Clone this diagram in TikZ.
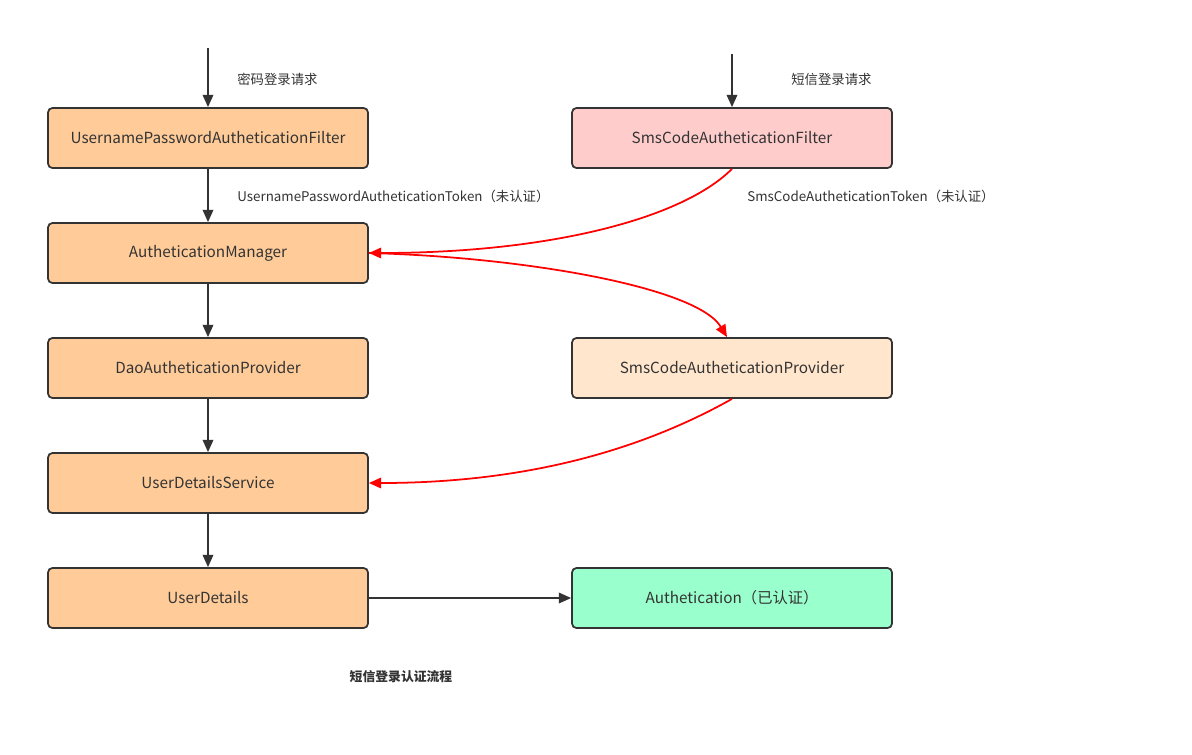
\documentclass[tikz,border=0pt]{standalone}
\usepackage{fontspec}
\newfontfamily\cjk{Noto Sans CJK SC}
\usetikzlibrary{arrows.meta, positioning}
\definecolor{boxline}{HTML}{333333}
\definecolor{orangebox}{HTML}{FFCC99}
\definecolor{pinkbox}{HTML}{FFCCCC}
\definecolor{peachbox}{HTML}{FFE6CC}
\definecolor{greenbox}{HTML}{99FFCC}

\begin{document}
\begin{tikzpicture}[x=0.02cm, y=-0.02cm,
    box/.style={draw=boxline, line width=1pt, rounded corners=2.5pt, minimum width=6.4cm, minimum height=1.2cm, font=\cjk\fontsize{8.7}{10}\selectfont, text=boxline},
    lbl/.style={anchor=west, inner sep=0pt, font=\cjk\fontsize{7.6}{9}\selectfont, text=boxline},
    arr/.style={draw=boxline, line width=1pt, -{Triangle[length=7pt, width=6pt]}},
    redarr/.style={draw=red, line width=1pt, -{Triangle[length=7pt, width=6pt]}}]
  \fill[white] (0, 0) rectangle (1192, 754);
  % left column
  \node[box, fill=orangebox] (upf) at (208, 138) {UsernamePasswordAutheticationFilter};
  \node[box, fill=orangebox] (mgr) at (208, 253) {AutheticationManager};
  \node[box, fill=orangebox] (dao) at (208, 368) {DaoAutheticationProvider};
  \node[box, fill=orangebox] (uds) at (208, 483) {UserDetailsService};
  \node[box, fill=orangebox] (ud) at (208, 598) {UserDetails};
  % right column
  \node[box, fill=pinkbox] (smsf) at (732, 138) {SmsCodeAutheticationFilter};
  \node[box, fill=peachbox] (smsp) at (732, 368) {SmsCodeAutheticationProvider};
  \node[box, fill=greenbox] (auth) at (732, 598) {Authetication（已认证）};
  % requests
  \coordinate (pwin) at (208, 48);
  \coordinate (smsin) at (732, 54);
  \draw[arr] (pwin) -- (upf);
  \draw[arr] (smsin) -- (smsf);
  \node[lbl] (pwlbl) at (237, 79) {密码登录请求};
  \node[lbl] (smslbl) at (791, 79) {短信登录请求};
  \foreach \a/\b in {upf/mgr, mgr/dao, dao/uds, uds/ud}
    \draw[arr] (\a) -- (\b);
  \draw[arr] (ud) -- (auth);
  \node[lbl] (pwtok) at (237, 196) {UsernamePasswordAutheticationToken（未认证）};
  \node[lbl] (smstok) at (747, 196) {SmsCodeAutheticationToken（未认证）};
  % sms flow
  \draw[redarr] (smsf.south) .. controls +(-50, 50) and +(180, 0) .. (mgr.east);
  \draw[redarr] (mgr.east) .. controls +(155, 4) and +(-30, -50) .. ([xshift=-0.1cm]smsp.north);
  \draw[redarr] (smsp.south) .. controls +(-80, 45) and +(170, 0) .. (uds.east);
  \node[font=\cjk\bfseries\fontsize{7.3}{9}\selectfont, text=boxline] (title) at (401, 677) {短信登录认证流程};
\end{tikzpicture}
\end{document}
